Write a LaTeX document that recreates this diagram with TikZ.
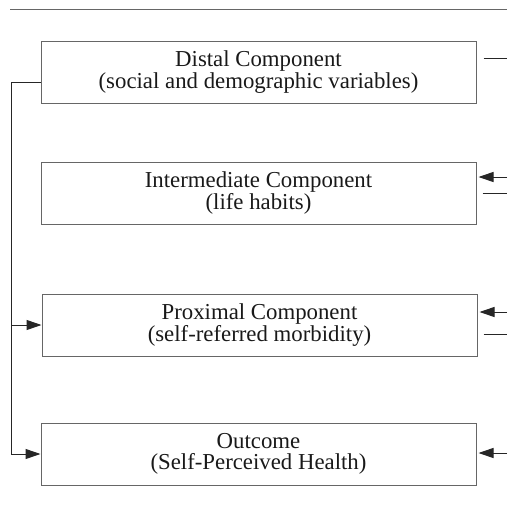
\documentclass[tikz,border=0pt]{standalone}
\usepackage{fontspec}
\setmainfont{Liberation Serif}
\usetikzlibrary{arrows.meta}

\begin{document}
\begin{tikzpicture}[x=1pt,y=-1pt, line width=1pt, >={Triangle[length=15pt,width=10pt]},
  comp/.style={draw=black!60, minimum width=435pt, minimum height=62pt, align=center,
    font=\fontsize{22.8}{21.5}\selectfont, text=black!90, inner sep=0pt}]
\useasboundingbox (0,0) rectangle (507,515);
% rule at the top
\draw[black!60] (10,9) -- (507,9);
% the four components
\node[comp] (dist) at (258.5,72) {Distal Component\\(social and demographic variables)};
\node[comp] (inter) at (258.5,193) {Intermediate Component\\(life habits)};
\node[comp] (prox) at (259.5,325) {Proximal Component\\(self-referred morbidity)};
\node[comp] (outc) at (258.5,454) {Outcome\\(Self-Perceived Health)};
% left connector from the distal component
\coordinate (lft) at (11,82);
\draw[black!85,->] (lft |- prox.west) -- (prox.west);
\draw[black!85,->] (dist.west |- lft) -- (lft) |- (outc.west);
% stubs on the right side
\coordinate (r1) at (507,58);
\coordinate (r2) at (507,177);
\coordinate (r3) at (507,193);
\coordinate (r4) at (507,312);
\coordinate (r5) at (507,334);
\coordinate (r6) at (507,453);
\draw[black!85] ([xshift=7pt]dist.east |- r1) -- (r1);
\draw[black!85,->] (r2) -- ([xshift=2pt]inter.east |- r2);
\draw[black!85] ([xshift=6pt]inter.east |- r3) -- (r3);
\draw[black!85,->] (r4) -- ([xshift=2pt]prox.east |- r4);
\draw[black!85] ([xshift=6pt]prox.east |- r5) -- (r5);
\draw[black!85,->] (r6) -- ([xshift=2pt]outc.east |- r6);
\end{tikzpicture}
\end{document}
